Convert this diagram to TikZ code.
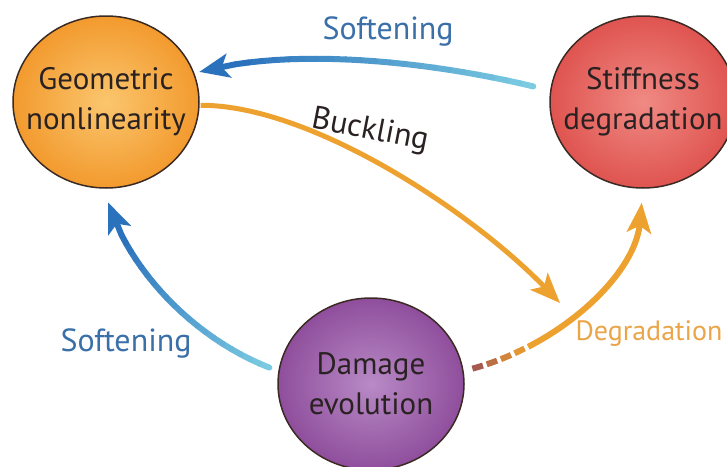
\documentclass[tikz,border=0pt]{standalone}
\usepackage{fontspec}
\setmainfont{PT Sans}
\usetikzlibrary{arrows.meta,positioning,shapes.geometric}

\definecolor{geoorange}{HTML}{F29A2E}
\definecolor{geolight}{HTML}{FBC66E}
\definecolor{stiffred}{HTML}{DF5450}
\definecolor{stifflight}{HTML}{F08A84}
\definecolor{dampurple}{HTML}{8F4E9C}
\definecolor{damlight}{HTML}{B88AC6}
\definecolor{nodeline}{HTML}{3B2A24}
\definecolor{nodetext}{HTML}{2A2222}
\definecolor{softlight}{HTML}{7FCFE3}
\definecolor{softdark}{HTML}{2B72BD}
\definecolor{softtext}{HTML}{3A6FA8}
\definecolor{buckorange}{HTML}{EDA12F}
\definecolor{degtext}{HTML}{EAA548}
\definecolor{degbrown}{HTML}{A65A4E}

\begin{document}
\begin{tikzpicture}[
    x=1pt, y=-1pt,
    effectbox/.style={ellipse, draw=nodeline, line width=1.5pt, minimum width=186pt, minimum height=172pt, inner xsep=-30pt, inner ysep=0pt, align=center, text=nodetext, font=\fontsize{31}{40}\selectfont},
    arrow/.style={-{Stealth[length=30pt, width=24pt, inset=7pt]}, line width=6pt},
    linklabel/.style={font=\fontsize{32}{36}\selectfont}
  ]
  \useasboundingbox (0,0) rectangle (727,466);
  \node[effectbox, inner color=geolight, outer color=geoorange] (geo) at (106,102) {Geometric\\nonlinearity};
  \node[effectbox, inner color=stifflight, outer color=stiffred] (stiff) at (643,102) {Stiffness\\degradation};
  \node[effectbox, inner color=damlight, outer color=dampurple] (dam) at (371,384) {Damage\\evolution};
  \coordinate (bk) at (560,303);

  % softening, stiffness -> geometric
  \path (stiff.173) .. controls (440,62) and (290,45) .. (geo.18)
    foreach \i [evaluate=\i as \t using 0.05+\i*0.0389] in {0,...,24} {coordinate[pos=\t] (top\i)};
  \foreach \i [evaluate=\i as \j using int(\i-1), evaluate=\i as \mix using int(\i*100/21)] in {1,...,21}
    \draw[line width=6pt, line cap=round, softdark!\mix!softlight] (top\j) -- (top\i);
  \draw[arrow, softdark] (top21) -- (top24);

  % softening, damage -> geometric
  \path (dam.172) .. controls (190,340) and (120,260) .. (geo.269)
    foreach \i [evaluate=\i as \t using 0.034+\i*0.0376] in {0,...,24} {coordinate[pos=\t] (left\i)};
  \foreach \i [evaluate=\i as \j using int(\i-1), evaluate=\i as \mix using int(\i*5)] in {1,...,20}
    \draw[line width=6pt, line cap=round, softdark!\mix!softlight] (left\j) -- (left\i);
  \draw[arrow, softdark] (left20) -- (left24);

  % buckling
  \draw[arrow, buckorange, line width=5pt, shorten <=1pt] (geo.-2) .. controls (310,105) and (470,210) .. (bk);

  % degradation, damage -> stiffness
  \draw[arrow, buckorange, dash pattern=on 0pt off 60pt on 2000pt, shorten <=9pt, shorten >=14pt] (dam.8) .. controls (560,345) and (635,275) .. (stiff.south);
  \foreach \s/\mix in {0/0, 15/30, 30/60, 45/85}
    \draw[line width=6pt, buckorange!\mix!degbrown, dash pattern=on 0pt off \s pt on 11pt off 2000pt, shorten <=9pt, shorten >=14pt] (dam.8) .. controls (560,345) and (635,275) .. (stiff.south);

  \node[linklabel, text=softtext] (softtop) at (388,31) {Softening};
  \node[linklabel, text=softtext] (softleft) at (126,343) {Softening};
  \node[linklabel, text=nodetext, rotate=-11] (buck) at (370,131) {Buckling};
  \node[linklabel, text=degtext, anchor=east, font=\fontsize{28}{32}\selectfont] (deg) at (726,334) {Degradation};
\end{tikzpicture}
\end{document}
